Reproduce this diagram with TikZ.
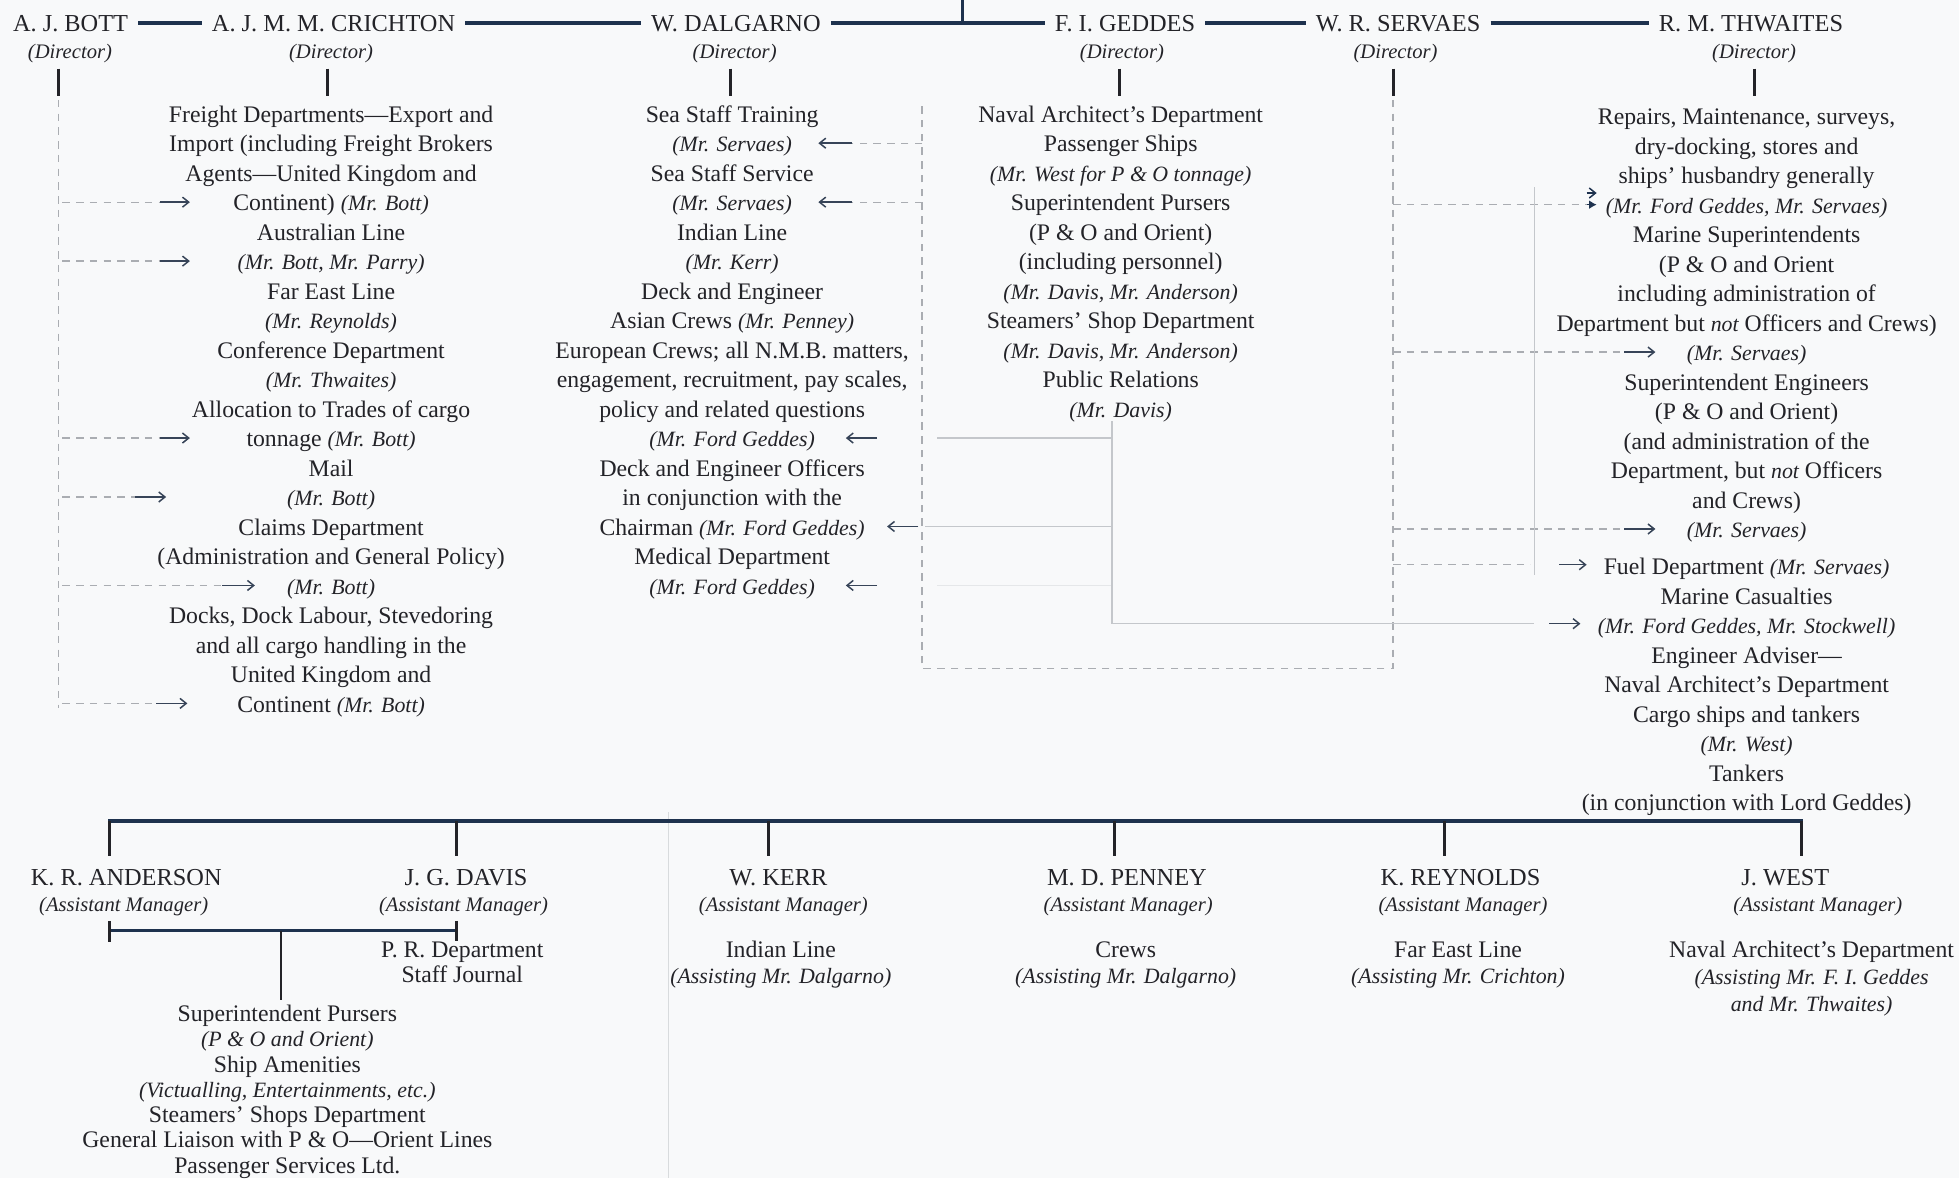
\documentclass[tikz,border=0pt]{standalone}
\usepackage{fontspec}
\setmainfont{Liberation Serif}
\usetikzlibrary{arrows.meta}
\definecolor{bg}{RGB}{248,249,250}
\definecolor{ink}{RGB}{35,35,40}
\definecolor{navy}{RGB}{30,50,78}
\definecolor{dashc}{RGB}{170,173,178}
\definecolor{faint}{RGB}{196,199,203}
\definecolor{arr}{RGB}{55,68,88}
\newcommand{\mi}[1]{{\fontsize{17.5}{23.6}\selectfont\itshape #1}}
\tikzset{
  person/.style={font=\fontsize{19.5}{23.6}\selectfont, text=ink, inner xsep=8pt, inner ysep=0pt, text height=13pt, text depth=0pt},
  rolel/.style={font=\fontsize{16.5}{20}\selectfont\itshape, text=ink, inner sep=0pt},
  colnode/.style={font=\fontsize{19}{23.6}\selectfont, text=ink, align=center, inner sep=0pt, anchor=base},
  subnode/.style={font=\fontsize{19}{21}\selectfont, text=ink, align=center, inner sep=0pt, anchor=base},
  topline/.style={draw=navy, line width=3pt},
  tickl/.style={draw=ink, line width=2.4pt},
  dashl/.style={draw=dashc, line width=1pt, dash pattern=on 6pt off 5pt},
  faintl/.style={draw=faint, line width=0.9pt},
  arrw/.style={draw=arr, line width=1.2pt, -{Straight Barb[length=5pt,width=8pt]}},
}
\begin{document}
\begin{tikzpicture}[x=1pt,y=-1pt]
\useasboundingbox (0,0) rectangle (1568,943);
\fill[bg] (0,0) rectangle (1568,943);

% ---------- directors ----------
\node[person] (bott) at (56.5,18.5) {A. J. BOTT};
\node[person] (crichton) at (267,18.5) {A. J. M. M. CRICHTON};
\node[person] (dalgarno) at (589,18.5) {W. DALGARNO};
\node[person] (geddes) at (900.5,18.5) {F. I. GEDDES};
\node[person] (servaes) at (1119,18.5) {W. R. SERVAES};
\node[person] (thwaites) at (1401.5,18.5) {R. M. THWAITES};
\coordinate (chair) at (770,0);
\draw[topline] (bott) -- (crichton);
\draw[topline] (crichton) -- (dalgarno);
\draw[topline] (dalgarno) -- (geddes);
\draw[topline] (geddes) -- (servaes);
\draw[topline] (servaes) -- (thwaites);
\draw[topline, line width=2.4pt] (chair) -- (chair |- dalgarno);

\node[rolel] (bottd) at (56,43) {(Director)};
\node[rolel] (crichtond) at (265,43) {(Director)};
\node[rolel] (dalgarnod) at (588,43) {(Director)};
\node[rolel] (geddesd) at (898,43) {(Director)};
\node[rolel] (servaesd) at (1117,43) {(Director)};
\node[rolel] (thwaitesd) at (1404,43) {(Director)};

\foreach \x/\n in {47/tb,262/tc,585/td,896/tg,1115/ts,1404/tt}{
  \coordinate (\n) at (\x,55);
  \draw[tickl] (\n) -- ++(0,22);
}

% ---------- columns (anchor = baseline of last line) ----------
\node[colnode] (crcol) at (265,570) {Freight Departments—Export and\\
Import (including Freight Brokers\\
Agents—United Kingdom and\\
Continent) \mi{(Mr. Bott)}\\
Australian Line\\
\mi{(Mr. Bott, Mr. Parry)}\\
Far East Line\\
\mi{(Mr. Reynolds)}\\
Conference Department\\
\mi{(Mr. Thwaites)}\\
Allocation to Trades of cargo\\
tonnage \mi{(Mr. Bott)}\\
Mail\\
\mi{(Mr. Bott)}\\
Claims Department\\
(Administration and General Policy)\\
\mi{(Mr. Bott)}\\
Docks, Dock Labour, Stevedoring\\
and all cargo handling in the\\
United Kingdom and\\
Continent \mi{(Mr. Bott)}};

\node[colnode] (dacol) at (586,475.6) {Sea Staff Training\\
\mi{(Mr. Servaes)}\\
Sea Staff Service\\
\mi{(Mr. Servaes)}\\
Indian Line\\
\mi{(Mr. Kerr)}\\
Deck and Engineer\\
Asian Crews \mi{(Mr. Penney)}\\
European Crews; all N.M.B. matters,\\
engagement, recruitment, pay scales,\\
policy and related questions\\
\mi{(Mr. Ford Geddes)}\\
Deck and Engineer Officers\\
in conjunction with the\\
Chairman \mi{(Mr. Ford Geddes)}\\
Medical Department\\
\mi{(Mr. Ford Geddes)}};

\node[colnode] (gecol) at (897,334) {Naval Architect’s Department\\
Passenger Ships\\
\mi{(Mr. West for P \& O tonnage)}\\
Superintendent Pursers\\
(P \& O and Orient)\\
(including personnel)\\
\mi{(Mr. Davis, Mr. Anderson)}\\
Steamers’ Shop Department\\
\mi{(Mr. Davis, Mr. Anderson)}\\
Public Relations\\
\mi{(Mr. Davis)}};

\node[colnode] (thcol) at (1398,648.8) {Repairs, Maintenance, surveys,\\
dry-docking, stores and\\
ships’ husbandry generally\\
\mi{(Mr. Ford Geddes, Mr. Servaes)}\\
Marine Superintendents\\
(P \& O and Orient\\
including administration of\\
Department but \mi{not} Officers and Crews)\\
\mi{(Mr. Servaes)}\\
Superintendent Engineers\\
(P \& O and Orient)\\
(and administration of the\\
Department, but \mi{not} Officers\\
and Crews)\\
\mi{(Mr. Servaes)}\\[6pt]
Fuel Department \mi{(Mr. Servaes)}\\
Marine Casualties\\
\mi{(Mr. Ford Geddes, Mr. Stockwell)}\\
Engineer Adviser—\\
Naval Architect’s Department\\
Cargo ships and tankers\\
\mi{(Mr. West)}\\
Tankers\\
(in conjunction with Lord Geddes)};

% ---------- Bott dashed links ----------
\coordinate (bTop) at (47,80);
\coordinate (bBot) at (47,567);
\draw[dashl] (bTop) -- (bBot);
\foreach \y/\a/\t/\n in {161.8/128/152/b1, 209/128/152/b2, 350.6/128/152/b3, 397.8/108/133/b4, 468.6/178/204/b5, 563/125/150/b6}{
  \coordinate (\n s) at (50,\y);
  \coordinate (\n m) at (\a,\y);
  \coordinate (\n t) at (\t,\y);
  \draw[dashl] (\n s) -- (\n m);
  \draw[arrw] (\n m) -- (\n t);
}

% ---------- Servaes dashed links ----------
\coordinate (sTop) at (1115,80);
\coordinate (sBot) at (1115,535);
\coordinate (dBot) at (738,535);
\coordinate (dTop) at (738,85);
\draw[dashl] (sTop) -- (sBot) -- (dBot) -- (dTop);
\foreach \y/\n in {114.6/s1, 161.8/s2}{
  \coordinate (\n s) at (738,\y);
  \coordinate (\n m) at (682,\y);
  \coordinate (\n t) at (655,\y);
  \draw[dashl] (\n s) -- (\n m);
  \draw[arrw] (\n m) -- (\n t);
}
% to Thwaites
\coordinate (t1s) at (1115,163.8);
\coordinate (t1m) at (1270,163.8);
\draw[dashl] (t1s) -- (t1m);
\draw[draw=navy, line width=1.2pt, -{Latex[length=6pt,width=7pt]}] (t1m) -- ++(8,0);
\draw[draw=navy, line width=1.2pt, -{Straight Barb[length=5pt,width=8pt]}] (1270,154.5) -- ++(8,0);
\foreach \y/\a/\b/\c/\n in {281.8/1300/1300/1325/t2, 423.4/1300/1300/1325/t3, 452/1225/1248/1270/t4}{
  \coordinate (\n s) at (1115,\y);
  \coordinate (\n m) at (\a,\y);
  \coordinate (\n a) at (\b,\y);
  \coordinate (\n t) at (\c,\y);
  \draw[dashl] (\n s) -- (\n m);
  \draw[arrw] (\n a) -- (\n t);
}
\coordinate (fvTop) at (1228,150);
\coordinate (fvBot) at (1228,460);
\draw[faintl] (fvTop) -- (fvBot);

% ---------- Geddes faint links ----------
\coordinate (gTop) at (890,337);
\coordinate (gBot) at (890,499.2);
\draw[faintl] (gTop) -- (gBot);
\coordinate (g1) at (890,350.6); \coordinate (g1e) at (750,350.6);
\draw[faintl] (g1) -- (g1e);
\draw[arrw] (702,350.6) coordinate (g1a) -- (677,350.6) coordinate (g1t);
\coordinate (g2) at (890,421.4); \coordinate (g2e) at (740,421.4);
\draw[faintl] (g2) -- (g2e);
\draw[arrw] (735,421.4) coordinate (g2a) -- (710,421.4) coordinate (g2t);
\coordinate (g3) at (890,468.6); \coordinate (g3e) at (750,468.6);
\draw[faintl, draw opacity=0.35] (g3) -- (g3e);
\draw[arrw] (702,468.6) coordinate (g3a) -- (677,468.6) coordinate (g3t);
\coordinate (g4e) at (1228,499.2);
\draw[faintl] (gBot) -- (g4e);
\draw[arrw] (1240,499.2) coordinate (g4a) -- (1265,499.2) coordinate (g4t);

% ---------- assistant managers ----------
\coordinate (fold1) at (535,650);
\coordinate (fold2) at (535,943);
\draw[draw=faint, line width=0.8pt, draw opacity=0.6] (fold1) -- (fold2);

\foreach \x/\n in {88/a1,365/a2,615/a3,892/a4,1156/a5,1442/a6}{
  \coordinate (\n) at (\x,657);
}
\draw[topline] ([xshift=-1.2pt]a1) -- ([xshift=1.2pt]a6);
\foreach \n in {a1,a2,a3,a4,a5,a6}{
  \draw[tickl] (\n) -- ++(0,28);
}

\node[person] (anderson) at (101,702) {K. R. ANDERSON};
\node[person] (davis) at (373,702) {J. G. DAVIS};
\node[person] (kerr) at (623,702) {W. KERR};
\node[person] (penney) at (902,702) {M. D. PENNEY};
\node[person] (reynolds) at (1169,702) {K. REYNOLDS};
\node[person] (west) at (1429,702) {J. WEST};

\node[rolel] (andersonr) at (99,725.5) {(Assistant Manager)};
\node[rolel] (davisr) at (371,725.5) {(Assistant Manager)};
\node[rolel] (kerrr) at (627,725.5) {(Assistant Manager)};
\node[rolel] (penneyr) at (903,725.5) {(Assistant Manager)};
\node[rolel] (reynoldsr) at (1171,725.5) {(Assistant Manager)};
\node[rolel] (westr) at (1455,725.5) {(Assistant Manager)};

\coordinate (sb1) at (88,745);
\coordinate (sb2) at (365,745);
\coordinate (sbm) at (225,745);
\draw[topline, line width=2.6pt] (sb1) -- (sb2);
\draw[tickl] (88,737) -- (88,754);
\draw[tickl] (365,737) -- (365,753);
\coordinate (sbd) at (225,800);
\draw[tickl, line width=2.2pt] (sbm) -- (sbd);

\node[subnode, font=\fontsize{19}{20.2}\selectfont] (andcol) at (230,939) {Superintendent Pursers\\
\mi{(P \& O and Orient)}\\
Ship Amenities\\
\mi{(Victualling, Entertainments, etc.)}\\
Steamers’ Shops Department\\
General Liaison with P \& O—Orient Lines\\
Passenger Services Ltd.};

\node[subnode, font=\fontsize{19}{20}\selectfont] (davcol) at (370,786) {P. R. Department\\Staff Journal};
\node[subnode] (kercol) at (625,787) {Indian Line\\ \mi{(Assisting Mr. Dalgarno)}};
\node[subnode] (pencol) at (901,787) {Crews\\ \mi{(Assisting Mr. Dalgarno)}};
\node[subnode] (reycol) at (1167,787) {Far East Line\\ \mi{(Assisting Mr. Crichton)}};
\node[subnode, font=\fontsize{19}{21.8}\selectfont] (wescol) at (1450,809.6) {Naval Architect’s Department\\ \mi{(Assisting Mr. F. I. Geddes}\\ \mi{and Mr. Thwaites)}};
\end{tikzpicture}
\end{document}
